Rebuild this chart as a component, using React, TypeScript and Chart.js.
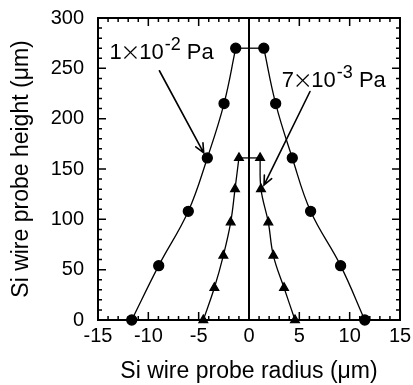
import React, { useEffect, useRef } from "react";
import { Chart, registerables } from "chart.js";

Chart.register(...registerables);

// ---- data ----
const circleHeights = [0, 54, 108, 161, 215, 270];
const circleLeftX = [-11.65, -8.97, -6.03, -4.14, -2.48, -1.32];
const circleRightX = [11.5, 9.1, 6.12, 4.3, 2.65, 1.47];

const triHeights = [0, 32, 64, 97, 130, 161];
const triLeftX = [-4.54, -3.44, -2.55, -1.82, -1.39, -1.0];
const triRightX = [4.57, 3.48, 2.42, 1.92, 1.19, 1.1];

const centerLineX = [0, 0];
const centerLineY = [0, 300];

// annotations: labels and arrows (data coordinates)
const labelMantissa = ["1", "7"];
const labelExponent = ["-2", "-3"];
const labelUnit = ["Pa", "Pa"];
const labelX = [-13.85, 3.25];
const labelY = [259, 231];
const arrowFromX = [-8.9, 6.06];
const arrowFromY = [247.6, 227];
const arrowToX = [-4.5, 1.49];
const arrowToY = [166, 134];

const xTitle = "Si wire probe radius (\u03bcm)";
const yTitle = "Si wire probe height (\u03bcm)";

const FONT = "'Liberation Sans', Arial, Helvetica, sans-serif";
const THIN = "Inter, 'Noto Sans', 'Liberation Sans', sans-serif";

const pts = (xs: number[], ys: number[]) => xs.map((x, i) => ({ x, y: ys[i] }));

const framePlugin = {
  id: "frame",
  afterDatasetsDraw(chart: any) {
    const { ctx, chartArea, scales } = chart;
    const xs = scales.x;
    const ys = scales.y;
    const { left, right, top, bottom } = chartArea;
    ctx.save();
    ctx.strokeStyle = "#000";
    ctx.lineWidth = 1.5;
    ctx.beginPath();
    for (let v = -15; v <= 15; v += 1) {
      const px = xs.getPixelForValue(v);
      const len = v % 5 === 0 ? 8 : 4;
      ctx.moveTo(px, bottom);
      ctx.lineTo(px, bottom - len);
      ctx.moveTo(px, top);
      ctx.lineTo(px, top + len);
    }
    for (let v = 0; v <= 300; v += 10) {
      const py = ys.getPixelForValue(v);
      const len = v % 50 === 0 ? 8 : 4;
      ctx.moveTo(left, py);
      ctx.lineTo(left + len, py);
      ctx.moveTo(right, py);
      ctx.lineTo(right - len, py);
    }
    ctx.stroke();
    ctx.lineWidth = 2;
    ctx.strokeRect(left, top, right - left, bottom - top);

    // arrows (open V heads)
    ctx.lineWidth = 1.6;
    ctx.lineCap = "round";
    for (let i = 0; i < arrowFromX.length; i++) {
      const x1 = xs.getPixelForValue(arrowFromX[i]);
      const y1 = ys.getPixelForValue(arrowFromY[i]);
      const x2 = xs.getPixelForValue(arrowToX[i]);
      const y2 = ys.getPixelForValue(arrowToY[i]);
      const ang = Math.atan2(y2 - y1, x2 - x1);
      const hl = 10;
      const ha = 0.42;
      ctx.beginPath();
      ctx.moveTo(x1, y1);
      ctx.lineTo(x2, y2);
      ctx.moveTo(x2 - hl * Math.cos(ang - ha), y2 - hl * Math.sin(ang - ha));
      ctx.lineTo(x2, y2);
      ctx.lineTo(x2 - hl * Math.cos(ang + ha), y2 - hl * Math.sin(ang + ha));
      ctx.stroke();
    }

    // labels
    ctx.fillStyle = "#000";
    ctx.textBaseline = "alphabetic";
    ctx.textAlign = "left";
    for (let i = 0; i < labelX.length; i++) {
      let x = xs.getPixelForValue(labelX[i]);
      const y = ys.getPixelForValue(labelY[i]);
      ctx.font = `22px ${FONT}`;
      ctx.fillText(labelMantissa[i], x, y);
      x += ctx.measureText(labelMantissa[i]).width;
      ctx.font = `200 30px ${THIN}`;
      ctx.fillText("\u00d7", x - 1, y + 2);
      x += ctx.measureText("\u00d7").width - 2;
      ctx.font = `22px ${FONT}`;
      ctx.fillText("10", x, y);
      x += ctx.measureText("10").width + 1;
      ctx.font = `18px ${FONT}`;
      ctx.fillText(labelExponent[i], x, y - 9);
      x += ctx.measureText(labelExponent[i]).width;
      ctx.font = `22px ${FONT}`;
      x += ctx.measureText(" ").width;
      ctx.fillText(labelUnit[i], x, y);
    }
    ctx.restore();
  },
};

export default function App() {
  const ref = useRef<HTMLCanvasElement | null>(null);
  useEffect(() => {
    if (!ref.current) return;
    const curve = (data: any[], style: string, radius: number) => ({
      data,
      showLine: true,
      borderColor: "#000",
      backgroundColor: "#000",
      borderWidth: 1.3,
      tension: 0.4,
      pointStyle: style,
      pointRadius: radius,
      pointHoverRadius: radius,
      clip: false,
    });
    const seg = (data: any[], w: number) => ({
      data,
      showLine: true,
      borderColor: "#000",
      backgroundColor: "#000",
      borderWidth: w,
      tension: 0,
      pointRadius: 0,
      clip: false,
    });
    const chart = new Chart(ref.current, {
      type: "scatter",
      data: {
        datasets: [
          curve(pts(circleLeftX, circleHeights), "circle", 5),
          curve(pts(circleRightX, circleHeights), "circle", 5),
          seg(
            pts(
              [circleLeftX[circleLeftX.length - 1], circleRightX[circleRightX.length - 1]],
              [circleHeights[circleHeights.length - 1], circleHeights[circleHeights.length - 1]]
            ),
            1.3
          ),
          curve(pts(triLeftX, triHeights), "triangle", 5),
          curve(pts(triRightX, triHeights), "triangle", 5),
          seg(
            pts(
              [triLeftX[triLeftX.length - 1], triRightX[triRightX.length - 1]],
              [triHeights[triHeights.length - 1], triHeights[triHeights.length - 1]]
            ),
            1.3
          ),
          seg(pts(centerLineX, centerLineY), 2),
        ] as any,
      },
      options: {
        animation: false,
        responsive: false,
        maintainAspectRatio: false,
        events: [],
        layout: { padding: { left: 0, right: 13, top: 18, bottom: 0 } },
        plugins: { legend: { display: false }, tooltip: { enabled: false } },
        scales: {
          x: {
            type: "linear",
            min: -15,
            max: 15,
            grid: { display: false, drawTicks: false },
            border: { display: false },
            ticks: {
              stepSize: 5,
              color: "#000",
              font: { family: FONT, size: 20 },
              padding: 4,
              maxRotation: 0,
            },
            title: {
              display: true,
              text: xTitle,
              color: "#000",
              font: { family: FONT, size: 23 },
              padding: { top: 0, bottom: 0 },
            },
            afterFit: (s: any) => {
              s.height = 65;
              s.paddingLeft = 0;
              s.paddingRight = 0;
            },
          },
          y: {
            type: "linear",
            min: 0,
            max: 300,
            grid: { display: false, drawTicks: false },
            border: { display: false },
            ticks: {
              stepSize: 50,
              color: "#000",
              font: { family: FONT, size: 20 },
              padding: 14,
            },
            title: {
              display: true,
              text: yTitle,
              color: "#000",
              font: { family: FONT, size: 23 },
              padding: { top: 8, bottom: 0 },
            },
            afterFit: (s: any) => {
              s.width = 98;
              s.paddingTop = 0;
              s.paddingBottom = 0;
            },
          },
        },
      },
      plugins: [framePlugin],
    });
    return () => chart.destroy();
  }, []);
  return (
    <div style={{ position: "fixed", left: 0, top: 0, width: 413, height: 385, background: "#fff" }}>
      <canvas ref={ref} width={413} height={385} style={{ display: "block", width: 413, height: 385 }} />
    </div>
  );
}
